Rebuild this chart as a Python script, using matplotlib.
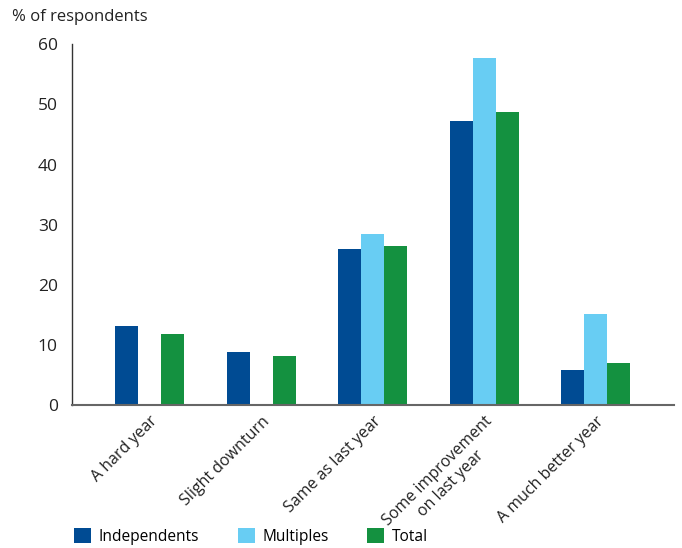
import numpy as np
import matplotlib.pyplot as plt

plt.rcParams['font.family'] = ['Open Sans', 'DejaVu Sans']

# dados
categorias = ['A hard year', 'Slight downturn', 'Same as last year',
              'Some improvement\non last year', 'A much better year']
independents = [13.2, 8.8, 26.0, 47.2, 5.9]
multiples = [0, 0, 28.5, 57.7, 15.2]
total = [11.8, 8.2, 26.4, 48.7, 7.0]

series = ['Independents', 'Multiples', 'Total']
cores = ['#004b93', '#68cdf3', '#149140']

fig = plt.figure(figsize=(6.82, 5.48), dpi=100)
ax = fig.add_axes([0.105, 0.261, 0.883, 0.658])

x = np.arange(len(categorias))
w = 0.206
for i, (vals, nome, cor) in enumerate(zip([independents, multiples, total], series, cores)):
    ax.bar(x + (i - 1) * w, vals, width=w, color=cor, label=nome)

ax.set_xlim(-0.7, 4.7)
ax.set_ylim(0, 60)
ax.set_yticks(range(0, 61, 10))
ax.set_xticks(x)
ax.set_xticklabels(categorias, rotation=45, ha='right', va='top',
                   rotation_mode='anchor', multialignment='center')
ax.tick_params(axis='both', length=0, colors='#222222')
ax.tick_params(axis='x', pad=6, labelsize=11.5)
ax.tick_params(axis='y', pad=10, labelsize=12.5)

for s in ['top', 'right']:
    ax.spines[s].set_visible(False)
ax.spines['left'].set_color('#333333')
ax.spines['left'].set_linewidth(1.0)
ax.spines['bottom'].set_color('#666666')
ax.spines['bottom'].set_linewidth(1.5)

fig.text(0.018, 0.969, '% of respondents', fontsize=12, va='center', color='#222222')

fig.legend(loc='center left', bbox_to_anchor=(0.088, 0.021), ncol=3, frameon=False,
           handlelength=1.1, handleheight=1.1, handletextpad=0.5, columnspacing=2.45,
           fontsize=11.2)

fig.savefig('out.png', dpi=100)
